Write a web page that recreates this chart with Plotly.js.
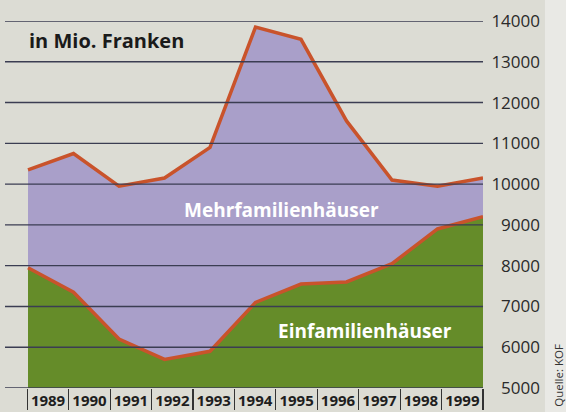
<!DOCTYPE html>
<html><head><meta charset="utf-8">
<script src="https://cdn.plot.ly/plotly-3.0.1.min.js"></script>
<style>html,body{margin:0;padding:0;background:#dcdcd4}</style>
</head><body><div id="chart" style="width:566px;height:412px"></div>
<script>
const years = ['1989','1990','1991','1992','1993','1994','1995','1996','1997','1998','1999'];
const einfamilien = [7950, 7350, 6200, 5700, 5900, 7100, 7550, 7600, 8050, 8900, 9200];
const gesamt = [10350, 10750, 9950, 10150, 10900, 13850, 13550, 11550, 10100, 9950, 10150];
const yTicks = [5000, 6000, 7000, 8000, 9000, 10000, 11000, 12000, 13000, 14000];

const idx = years.map((_, i) => i);
const xRange = [-0.5055, years.length - 1];
const x2Range = [-0.539, years.length];
const FONT = 'Open Sans, Noto Sans, sans-serif';
const LINE = '#c9532b';

const traces = [];
traces.push({x: idx, y: einfamilien, xaxis: 'x', yaxis: 'y', mode: 'lines', line: {width: 0, color: 'rgba(0,0,0,0)'},
  fill: 'tozeroy', fillcolor: '#658c29', hoverinfo: 'skip', showlegend: false});
traces.push({x: idx, y: gesamt, xaxis: 'x', yaxis: 'y', mode: 'lines', line: {width: 0, color: 'rgba(0,0,0,0)'},
  fill: 'tonexty', fillcolor: '#a99fc9', hoverinfo: 'skip', showlegend: false});
yTicks.forEach(v => traces.push({x: x2Range, y: [v, v], xaxis: 'x2', yaxis: 'y', mode: 'lines',
  line: {width: 1.4, color: '#3b3d52'}, hoverinfo: 'skip', showlegend: false}));
traces.push({x: idx, y: einfamilien, xaxis: 'x', yaxis: 'y', mode: 'lines', line: {width: 3.5, color: LINE}, showlegend: false});
traces.push({x: idx, y: gesamt, xaxis: 'x', yaxis: 'y', mode: 'lines', line: {width: 3.5, color: LINE}, showlegend: false});

const layout = {
  width: 566, height: 412,
  margin: {l: 5, r: 26, t: 21, b: 24, pad: 0},
  paper_bgcolor: '#dcdcd4', plot_bgcolor: '#dcdcd4',
  font: {family: FONT, color: '#222'},
  showlegend: false,
  xaxis: {domain: [0, 0.8935], range: xRange, showticklabels: false, showgrid: false, zeroline: false, showline: false, ticks: '', fixedrange: true},
  xaxis2: {overlaying: 'x', anchor: 'y', side: 'bottom', range: x2Range,
    tickvals: years.map((_, i) => i + 0.5), ticktext: years, ticks: '',
    tickfont: {family: FONT, size: 15, color: '#1e1e1e', weight: 'bold'},
    ticklabelstandoff: 2,
    showgrid: false, zeroline: false, showline: false,
    minor: {tickvals: years.map((_, i) => i).concat([years.length]), ticks: 'outside', ticklen: 21, tickwidth: 1.2, tickcolor: '#333', showgrid: false}},
  yaxis: {range: [5000, 14000], anchor: 'free', position: 1, side: 'left',
    tickvals: yTicks, ticktext: yTicks.map(String), ticks: '', showgrid: false, zeroline: false, showline: false,
    tickfont: {family: FONT, size: 17, color: '#2a2a2a'}},
  annotations: [
    {text: 'in Mio. Franken', xref: 'paper', yref: 'paper', x: 0.041, y: 0.948, xanchor: 'left', yanchor: 'middle', showarrow: false,
      font: {family: FONT, size: 20, color: '#1a1a1a', weight: 'bold'}},
    {text: 'Mehrfamilienhäuser', xref: 'x', yref: 'y', x: 5.57, y: 9365, showarrow: false,
      font: {family: FONT, size: 19, color: '#ffffff', weight: 'bold'}},
    {text: 'Einfamilienhäuser', xref: 'x', yref: 'y', x: 7.40, y: 6403, showarrow: false,
      font: {family: FONT, size: 19, color: '#ffffff', weight: 'bold'}},
    {text: 'Quelle: KOF', xref: 'paper', yref: 'paper', x: 1.052, y: -0.057, textangle: -90, showarrow: false,
      font: {family: FONT, size: 11.5, color: '#333'}}
  ],
  shapes: [
    {type: 'rect', xref: 'paper', yref: 'paper', x0: 1.0093, x1: 1.06, y0: -0.1, y1: 1.1, fillcolor: '#e9e9e5', line: {width: 0}, layer: 'below'}
  ]
};
Plotly.newPlot('chart', traces, layout, {displayModeBar: false, staticPlot: true});
</script></body></html>
